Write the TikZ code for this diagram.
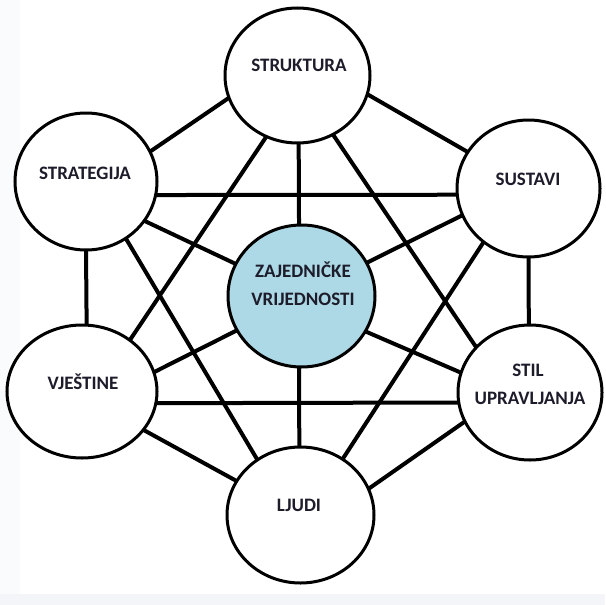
\documentclass[tikz,border=0pt]{standalone}
\usepackage{fontspec}
\setmainfont{Carlito}
\usetikzlibrary{shapes.geometric}
\pgfdeclarelayer{bg}
\pgfdeclarelayer{lines}
\pgfsetlayers{bg,lines,main}
\definecolor{txt}{RGB}{28,28,42}
\definecolor{core}{RGB}{173,216,230}
\definecolor{bgleft}{RGB}{250,251,252}
\definecolor{bgbot}{RGB}{243,245,248}
\begin{document}
\begin{tikzpicture}[x=1pt,y=-1pt,
  bub/.style={ellipse, draw=black, line width=3pt, fill=white, inner sep=0pt, outer sep=0pt},
  link/.style={line width=4pt, draw=black},
  lbl/.style={font=\fontsize{19}{23}\selectfont\bfseries, text=txt, inner sep=0pt, text height=12pt, text depth=0pt}]
\useasboundingbox (0,0) rectangle (605,605);
\begin{pgfonlayer}{bg}
  \fill[white] (0,0) rectangle (605,605);
  \fill[bgleft] (0,0) rectangle (20,594);
  \fill[bgbot] (0,594) rectangle (605,605);
\end{pgfonlayer}
% circles
\node[bub, minimum width=145pt, minimum height=135pt] (T) at (297.5,75.5) {};
\node[bub, minimum width=142pt, minimum height=137pt] (L1) at (86,181.5) {};
\node[bub, minimum width=143pt, minimum height=137pt] (R1) at (528.5,188.5) {};
\node[bub, minimum width=150pt, minimum height=133pt] (L2) at (82,391.5) {};
\node[bub, minimum width=144pt, minimum height=135pt] (R2) at (530,392.5) {};
\node[bub, minimum width=147pt, minimum height=136pt] (B) at (300.5,515) {};
\node[bub, fill=core, minimum width=147pt, minimum height=142pt] (C) at (301.5,296) {};
% labels
\node[lbl] (tT) at (299,65) {STRUKTURA};
\node[lbl] (tL1) at (85,173) {STRATEGIJA};
\node[lbl] (tR1) at (528,179) {SUSTAVI};
\node[lbl] (tL2) at (83,383) {VJEŠTINE};
\node[lbl] (tR2a) at (528,370) {STIL};
\node[lbl] (tR2b) at (530,398) {UPRAVLJANJA};
\node[lbl] (tB) at (299,505) {LJUDI};
\node[lbl] (tCa) at (303,271) {ZAJEDNIČKE};
\node[lbl] (tCb) at (303,299) {VRIJEDNOSTI};
% connectors
\begin{pgfonlayer}{lines}
  \draw[link] (T.198) -- (L1.25);
  \draw[link] (T.345) -- (R1.149);
  \draw[link] (T.243) -- (L2.47);
  \draw[link] (T.271) -- (C.92);
  \draw[link] (T.301) -- (R2.140);
  \draw[link] (L1.349) -- (R1.185);
  \draw[link] (L1.326) -- (C.154);
  \draw[link] (L1.305) -- (B.128);
  \draw[link] (L1.270) -- (L2.86);
  \draw[link] (R1.202) -- (C.27);
  \draw[link] (R1.230) -- (B.53);
  \draw[link] (R1.270) -- (R2.91);
  \draw[link] (L2.15) -- (C.208);
  \draw[link] (L2.351) -- (R2.188);
  \draw[link] (L2.328) -- (B.152);
  \draw[link] (R2.164) -- (C.331);
  \draw[link] (R2.204) -- (B.21);
  \draw[link] (C.268) -- (B.91);
\end{pgfonlayer}
\end{tikzpicture}
\end{document}
